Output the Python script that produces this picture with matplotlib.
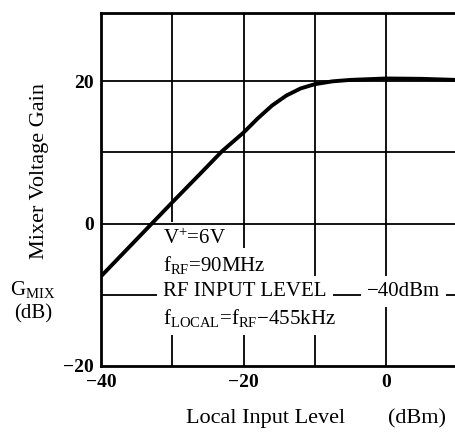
import numpy as np
import matplotlib
matplotlib.use("Agg")
import matplotlib.pyplot as plt

plt.rcParams['font.family'] = ['Liberation Serif', 'DejaVu Serif']
plt.rcParams['mathtext.fontset'] = 'custom'
plt.rcParams['mathtext.rm'] = 'Liberation Serif'
plt.rcParams['mathtext.it'] = 'Liberation Serif'

# local input level (dBm) vs mixer voltage gain (dB)
local_level = [-40, -35, -30, -26, -23, -20, -18, -16, -14, -12, -10, -7.5, -5, 0, 5, 9.8]
gain = [-7.4, -2.2, 3.0, 7.1, 10.2, 12.8, 14.8, 16.6, 18.0, 19.0, 19.6, 20.0, 20.2, 20.4, 20.35, 20.2]

xticks = [-40, -20, 0]
xtick_labels = ['\u221240', '\u221220', '0']
yticks = [-20, 0, 20]
ytick_labels = ['\u221220', '0', '20']
grid_x = [-30, -20, -10, 0]
grid_y = [-10, 0, 10, 20]

fig = plt.figure(figsize=(4.56, 4.32), dpi=100)
ax = fig.add_axes([101/456, 1 - 366/432, 1 - 101/456, (366 - 13)/432])

for gx in grid_x:
    ax.axvline(gx, color='black', lw=1.3, zorder=1)
for gy in grid_y:
    # the 0 dB line stays on top of the text boxes
    ax.axhline(gy, color='black', lw=1.3, zorder=2.5 if gy == 0 else 1)

ax.plot(local_level, gain, color='black', lw=2.8, solid_capstyle='round', zorder=3)

ax.set_xlim(-40, 9.8)
ax.set_ylim(-20, 29.6)
ax.set_xticks(xticks)
ax.set_xticklabels(xtick_labels, fontweight='bold', fontsize=14)
ax.set_yticks(yticks)
ax.set_yticklabels(ytick_labels, fontweight='bold', fontsize=14)
ax.tick_params(length=0, pad=5)
ax.tick_params(axis='x', pad=6)
for side in ['left', 'bottom', 'top']:
    ax.spines[side].set_linewidth(2)
ax.spines['right'].set_visible(False)

# condition text block, white boxes hide the grid behind it
box = dict(facecolor='white', edgecolor='none', boxstyle='square,pad=0.3')
tx = -31.3
fs = 15
ax.text(tx, -2.1, 'V$^{+}$=6V', fontsize=fs, va='center', ha='left', bbox=box, zorder=2)
ax.text(tx, -5.8, 'f$_{\\mathrm{RF}}$=90MHz', fontsize=fs, va='center', ha='left', bbox=box, zorder=2)
ax.text(tx, -9.5, 'RF INPUT LEVEL', fontsize=fs, va='center', ha='left', bbox=box, zorder=2)
ax.text(-2.7, -9.5, '\u221240dBm', fontsize=fs, va='center', ha='left', bbox=box, zorder=2)
ax.text(tx, -13.2, 'f$_{\\mathrm{LOCAL}}$=f$_{\\mathrm{RF}}$\u2212455kHz', fontsize=fs,
        va='center', ha='left', bbox=box, zorder=2)

fig.text(40/456, 1 - 171/432, 'Mixer Voltage Gain', rotation=90, fontsize=16,
         ha='center', va='center')
fig.text(33/456, 1 - 290/432, 'G$_{\\mathrm{MIX}}$', fontsize=15, ha='center', va='center')
fig.text(33/456, 1 - 314/432, '(dB)', fontsize=15, ha='center', va='center')
fig.text(266/456, 1 - 419/432, 'Local Input Level', fontsize=16, ha='center', va='center')
fig.text(417/456, 1 - 419/432, '(dBm)', fontsize=16, ha='center', va='center')

fig.savefig('out.png', dpi=100)
